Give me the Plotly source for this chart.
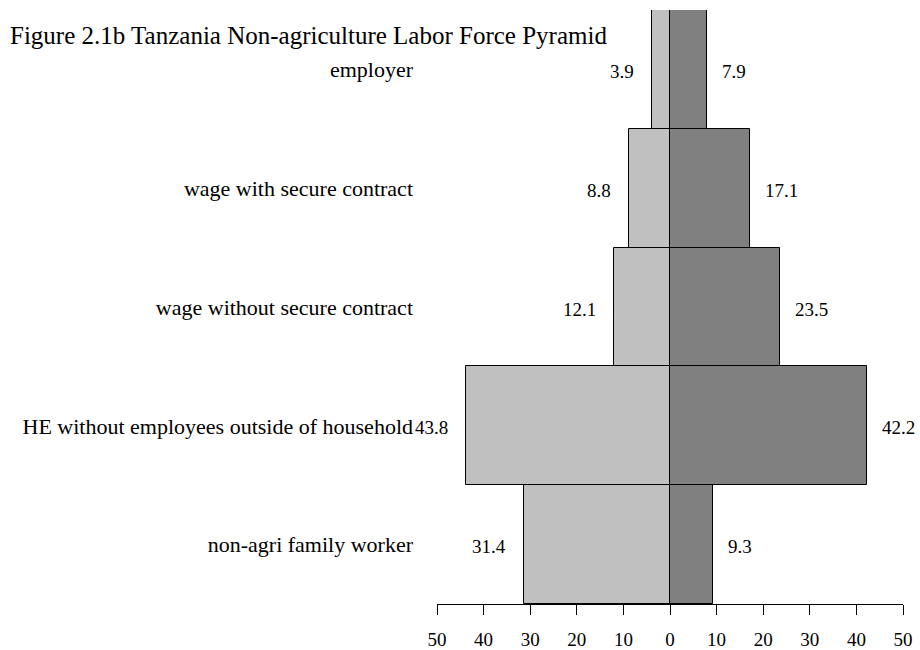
import plotly.graph_objects as go

# Employment categories, listed from the top of the pyramid down
categories = [
    "employer",
    "wage with secure contract",
    "wage without secure contract",
    "HE without employees outside of household",
    "non-agri family worker",
]
# Shares (%) drawn to the left and to the right of zero
left_values = [3.9, 8.8, 12.1, 43.8, 31.4]
right_values = [7.9, 17.1, 23.5, 42.2, 9.3]
tick_values = [-50, -40, -30, -20, -10, 0, 10, 20, 30, 40, 50]
tick_labels = ["50", "40", "30", "20", "10", "0", "10", "20", "30", "40", "50"]

SERIF = "Liberation Serif"

fig = go.Figure()
fig.add_trace(go.Bar(
    y=categories, x=[-v for v in left_values], orientation="h",
    name="Group A", marker=dict(color="#C0C0C0", line=dict(color="black", width=1)),
    hoverinfo="skip",
))
fig.add_trace(go.Bar(
    y=categories, x=right_values, orientation="h",
    name="Group B", marker=dict(color="#808080", line=dict(color="black", width=1)),
    hoverinfo="skip",
))

# Value labels just outside each bar end
for cat, v in zip(categories, left_values):
    fig.add_annotation(x=-v, y=cat, text=f"{v:.1f}", showarrow=False,
                       xanchor="right", xshift=-16, yshift=-2,
                       font=dict(family=SERIF, size=19, color="black"))
for cat, v in zip(categories, right_values):
    fig.add_annotation(x=v, y=cat, text=f"{v:.1f}", showarrow=False,
                       xanchor="left", xshift=13, yshift=-2,
                       font=dict(family=SERIF, size=19, color="black"))

fig.update_layout(
    width=920, height=650,
    margin=dict(l=437, r=17, t=10, b=46),
    paper_bgcolor="white", plot_bgcolor="white",
    barmode="relative", bargap=0,
    showlegend=False,
    font=dict(family=SERIF, color="black"),
    title=dict(text="Figure 2.1b Tanzania Non-agriculture Labor Force Pyramid",
               x=10 / 920, xanchor="left", xref="container",
               y=1 - 35 / 650, yanchor="middle", yref="container",
               font=dict(family=SERIF, size=25, color="black")),
    xaxis=dict(range=[-50, 50], tickvals=tick_values, ticktext=tick_labels,
               ticks="outside", ticklen=10, tickcolor="black", tickwidth=1,
               showline=True, linecolor="black", linewidth=1,
               showgrid=False, zeroline=False, ticklabelstandoff=8,
               automargin=False,
               tickfont=dict(family=SERIF, size=19, color="black")),
    yaxis=dict(categoryorder="array", categoryarray=categories,
               range=[4.5, -0.5], showgrid=False, zeroline=False,
               showline=False, ticks="", ticklabelstandoff=23,
               automargin=False,
               tickfont=dict(family=SERIF, size=22, color="black")),
)

fig.write_html("out.html")
